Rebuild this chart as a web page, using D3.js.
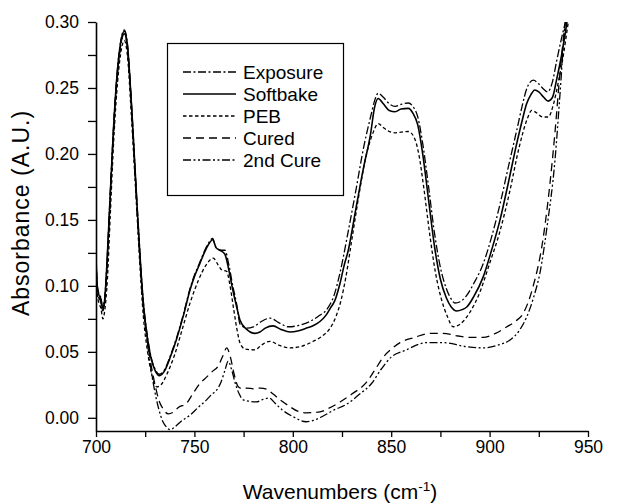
<!DOCTYPE html>
<html>
<head>
<meta charset="utf-8">
<script src="https://cdn.jsdelivr.net/npm/d3@7"></script>
<style>
  html, body { margin: 0; padding: 0; background: #fff; }
  svg { display: block; }
  text { font-family: "Liberation Sans", Arial, Helvetica, sans-serif; fill: #000; }
</style>
</head>
<body>
<svg id="chart" width="627" height="504"></svg>
<script>
// FTIR absorbance spectra of the film after each processing step

const seriesNames = ["Exposure", "Softbake", "PEB", "Cured", "2nd Cure"];

const exposureWn = [700, 700.6, 701.5, 702.5, 703.3, 704.3, 705.5, 707.1, 709, 711, 713, 714.4, 716, 718, 720.7, 722.4, 724, 726, 728, 730, 732.2, 735, 738, 741, 744.5, 747.8, 750, 752.8, 755, 757, 759.3, 761, 763.5, 765.5, 767.5, 769.5, 771.5, 773.2, 776.6, 780, 784, 788.4, 793, 797.7, 803, 808.7, 813, 817.2, 821, 824, 828, 832, 836, 839.5, 841.5, 843.4, 846, 849, 852, 855, 858.7, 861, 863.5, 866, 869, 872, 875, 878, 880.5, 882.4, 885, 888, 892, 896.8, 901, 905.3, 909.5, 913.8, 916.5, 919, 922.2, 925, 927.5, 929.5, 932, 934, 936.6, 938.5, 940.5];
const exposureAbs = [0.123, 0.101, 0.094, 0.091, 0.084, 0.089, 0.116, 0.166, 0.223, 0.266, 0.289, 0.294, 0.283, 0.239, 0.166, 0.123, 0.089, 0.063, 0.046, 0.037, 0.033, 0.037, 0.048, 0.061, 0.079, 0.098, 0.108, 0.118, 0.126, 0.132, 0.136, 0.129, 0.127, 0.127, 0.116, 0.100, 0.086, 0.071, 0.068, 0.069, 0.073, 0.0755, 0.072, 0.069, 0.070, 0.073, 0.077, 0.082, 0.093, 0.110, 0.140, 0.172, 0.205, 0.228, 0.240, 0.246, 0.243, 0.238, 0.236, 0.2375, 0.2386, 0.236, 0.228, 0.208, 0.175, 0.140, 0.114, 0.098, 0.090, 0.087, 0.088, 0.092, 0.102, 0.117, 0.137, 0.162, 0.190, 0.218, 0.236, 0.250, 0.256, 0.253, 0.249, 0.247, 0.255, 0.270, 0.288, 0.300, 0.315];

const softbakeWn = [700, 700.6, 701.5, 702.5, 703.3, 704.3, 705.5, 707.1, 709, 711, 713, 714.4, 716, 718, 720.7, 722.4, 724, 726, 728, 730, 732.2, 735, 738, 741, 744.5, 747.8, 750, 752.8, 755, 757, 759.3, 761, 763, 765.5, 767.5, 769.5, 771.5, 773.2, 776.6, 780.8, 783.3, 786, 790, 794, 798.6, 803, 807, 810.5, 813.8, 817, 819, 821.4, 824, 826, 828.2, 832, 836, 839.5, 841.5, 843.4, 846, 849, 852, 855, 858.7, 861, 863.5, 866, 869, 872, 875, 878, 880.5, 883.3, 886, 888.4, 892, 896.8, 901, 905.3, 909.5, 913.8, 916.5, 918.8, 921, 923, 925, 927.5, 929.8, 932, 934, 936.6, 938.5, 940.5];
const softbakeAbs = [0.122, 0.100, 0.093, 0.090, 0.083, 0.088, 0.115, 0.165, 0.222, 0.265, 0.288, 0.293, 0.282, 0.238, 0.165, 0.122, 0.088, 0.062, 0.045, 0.036, 0.032, 0.036, 0.047, 0.060, 0.078, 0.097, 0.107, 0.117, 0.125, 0.131, 0.135, 0.129, 0.127, 0.124, 0.112, 0.097, 0.084, 0.074, 0.067, 0.064, 0.065, 0.068, 0.0697, 0.067, 0.065, 0.066, 0.068, 0.070, 0.073, 0.078, 0.083, 0.089, 0.102, 0.115, 0.127, 0.158, 0.190, 0.215, 0.235, 0.242, 0.238, 0.233, 0.232, 0.234, 0.2345, 0.231, 0.222, 0.200, 0.165, 0.130, 0.105, 0.091, 0.084, 0.081, 0.082, 0.084, 0.092, 0.107, 0.127, 0.150, 0.178, 0.208, 0.225, 0.238, 0.245, 0.2485, 0.247, 0.243, 0.240, 0.243, 0.256, 0.275, 0.292, 0.312];

const pebWn = [700, 700.6, 701.5, 702.5, 703.5, 704.5, 705.8, 707.3, 709, 711, 713, 714.4, 716, 718, 720.7, 722.4, 724, 726, 728, 730.9, 733, 736, 740, 744, 748, 752, 756, 759.6, 762, 764, 766.4, 768, 770, 772, 773.2, 776, 780.8, 784, 788.4, 793, 798.6, 804, 810.4, 815, 819, 822, 824.5, 827, 830, 833.5, 837, 840.5, 843.4, 846, 849, 852, 855, 858.7, 861.5, 864, 866.5, 869.5, 872.5, 875.5, 878.5, 881.5, 885, 890, 895, 900, 905, 910, 915, 919, 921.4, 924, 927, 929.8, 932.5, 935, 937.5, 939.5, 941.5];
const pebAbs = [0.117, 0.094, 0.087, 0.083, 0.075, 0.082, 0.105, 0.155, 0.210, 0.255, 0.280, 0.286, 0.274, 0.228, 0.158, 0.113, 0.078, 0.052, 0.035, 0.0235, 0.025, 0.033, 0.048, 0.068, 0.088, 0.104, 0.116, 0.121, 0.116, 0.112, 0.111, 0.101, 0.082, 0.064, 0.0566, 0.052, 0.0515, 0.055, 0.058, 0.055, 0.053, 0.054, 0.058, 0.062, 0.068, 0.077, 0.089, 0.107, 0.135, 0.168, 0.197, 0.215, 0.223, 0.220, 0.217, 0.216, 0.2165, 0.217, 0.213, 0.200, 0.175, 0.140, 0.110, 0.090, 0.077, 0.069, 0.071, 0.080, 0.095, 0.117, 0.140, 0.170, 0.205, 0.226, 0.233, 0.231, 0.228, 0.228, 0.238, 0.255, 0.275, 0.295, 0.315];

const curedWn = [700, 700.6, 701.5, 702.5, 703.3, 704.3, 705.5, 707.1, 709, 711, 713, 714.4, 716, 718, 720.7, 722.4, 724, 726, 728, 730, 732, 734, 736.8, 739, 742, 746, 749.5, 752.8, 756.3, 759, 762, 764.5, 766.4, 768.3, 770.2, 772.3, 774.5, 776.7, 780, 783.5, 786.9, 790, 793.5, 798, 802.5, 807, 813.8, 818, 824, 830, 837.5, 842, 846, 850, 854.5, 862, 869.7, 876.3, 884, 890, 896.6, 903, 908.8, 913, 917, 922, 927.1, 930.7, 933.2, 935.8, 938.3, 940.5];
const curedAbs = [0.121, 0.098, 0.091, 0.088, 0.081, 0.087, 0.113, 0.163, 0.220, 0.262, 0.286, 0.291, 0.280, 0.236, 0.163, 0.120, 0.086, 0.060, 0.040, 0.025, 0.013, 0.007, 0.003, 0.004, 0.008, 0.011, 0.019, 0.026, 0.031, 0.035, 0.039, 0.047, 0.053, 0.046, 0.033, 0.0235, 0.022, 0.0225, 0.022, 0.0225, 0.0215, 0.018, 0.0136, 0.009, 0.005, 0.0038, 0.0045, 0.007, 0.012, 0.018, 0.027, 0.037, 0.046, 0.052, 0.057, 0.061, 0.064, 0.064, 0.062, 0.061, 0.061, 0.064, 0.069, 0.073, 0.079, 0.099, 0.135, 0.178, 0.216, 0.262, 0.298, 0.320];

const cure2Wn = [700, 700.6, 701.5, 702.5, 703.3, 704.3, 705.5, 707.1, 709, 711, 713, 714.4, 716, 718, 720.7, 722.4, 724, 726, 728, 730, 732, 734, 735.8, 737.6, 740, 743, 747.8, 752, 756.2, 759, 761.3, 763.5, 765.5, 767.2, 769, 771, 772.8, 774.8, 778, 781.5, 785, 788, 791, 794.6, 800, 806.7, 810.5, 815, 821, 827, 834, 840, 845, 850, 857, 868, 876.3, 888, 896.6, 904, 910.4, 915, 919, 922.5, 925.6, 929.2, 933.2, 935.8, 938.3, 940.5];
const cure2Abs = [0.121, 0.098, 0.091, 0.088, 0.081, 0.087, 0.113, 0.163, 0.220, 0.262, 0.286, 0.291, 0.280, 0.236, 0.163, 0.120, 0.085, 0.058, 0.036, 0.019, 0.006, -0.003, -0.007, -0.009, -0.007, -0.003, 0.002, 0.008, 0.0136, 0.018, 0.021, 0.027, 0.036, 0.043, 0.036, 0.025, 0.018, 0.0136, 0.0125, 0.012, 0.014, 0.015, 0.011, 0.006, 0.001, -0.003, -0.002, 0.001, 0.006, 0.010, 0.018, 0.026, 0.037, 0.046, 0.051, 0.057, 0.057, 0.054, 0.053, 0.055, 0.059, 0.066, 0.077, 0.092, 0.110, 0.145, 0.195, 0.246, 0.298, 0.320];

const xTicks = [700, 725, 750, 775, 800, 825, 850, 875, 900, 925, 950];
const xTickLabels = ["700", "", "750", "", "800", "", "850", "", "900", "", "950"];
const yTicks = [0.00, 0.025, 0.05, 0.075, 0.10, 0.125, 0.15, 0.175, 0.20, 0.225, 0.25, 0.275, 0.30];
const yTickLabels = ["0.00", "", "0.05", "", "0.10", "", "0.15", "", "0.20", "", "0.25", "", "0.30"];

const seriesWn = [exposureWn, softbakeWn, pebWn, curedWn, cure2Wn];
const seriesAbs = [exposureAbs, softbakeAbs, pebAbs, curedAbs, cure2Abs];

// line styles per processing step
const dashes = ["8,2.5,2,2.5", null, "3.5,2.5", "8,5", "8,2.5,2,2.5,2,2.5"];
const widths = [1.3, 1.6, 1.3, 1.3, 1.3];

const svg = d3.select("#chart");
const plotLeft = 96, plotRight = 588, plotTop = 22, plotBottom = 431;

const x = d3.scaleLinear().domain([700, 950]).range([plotLeft, plotRight]);
const y = d3.scaleLinear().domain([-0.01, 0.30]).range([plotBottom, plotTop]);

svg.append("defs").append("clipPath").attr("id", "plotClip")
  .append("rect").attr("x", plotLeft).attr("y", plotTop)
  .attr("width", plotRight - plotLeft).attr("height", plotBottom - plotTop);

// spectra
const line = d3.line().x(d => x(d[0])).y(d => y(d[1])).curve(d3.curveMonotoneX);
const plot = svg.append("g").attr("clip-path", "url(#plotClip)");
seriesNames.forEach((name, i) => {
  const pts = seriesWn[i].map((w, k) => [w, seriesAbs[i][k]]);
  plot.append("path")
    .datum(pts)
    .attr("d", line)
    .attr("fill", "none")
    .attr("stroke", "#000")
    .attr("stroke-width", widths[i])
    .attr("stroke-dasharray", dashes[i]);
});

// axes
const xAxis = d3.axisBottom(x).tickValues(xTicks).tickSize(6).tickSizeOuter(0)
  .tickFormat((d, i) => xTickLabels[i]);
const gx = svg.append("g").attr("transform", `translate(0,${plotBottom})`).call(xAxis);
gx.select(".domain").attr("stroke-width", 1.6);
gx.selectAll(".tick line").attr("stroke-width", 1.3);
gx.selectAll(".tick text").attr("font-size", 17.5).attr("y", 10).attr("font-family", "Liberation Sans, Arial, sans-serif");

const yAxis = d3.axisLeft(y).tickValues(yTicks).tickSize(8).tickSizeOuter(0)
  .tickFormat((d, i) => yTickLabels[i]);
const gy = svg.append("g").attr("transform", `translate(${plotLeft},0)`).call(yAxis);
gy.select(".domain").attr("stroke-width", 1.6);
gy.selectAll(".tick line").attr("stroke-width", 1.3);
gy.selectAll(".tick text").attr("font-size", 17.5).attr("x", -17).attr("font-family", "Liberation Sans, Arial, sans-serif");

// axis titles
const xt = svg.append("text").attr("x", 340).attr("y", 499).attr("text-anchor", "middle").attr("font-size", 21);
xt.append("tspan").text("Wavenumbers (cm");
xt.append("tspan").attr("font-size", 13.5).attr("dy", -8).text("-1");
xt.append("tspan").attr("dy", 8).text(")");

svg.append("text")
  .attr("transform", "translate(29,213) rotate(-90)")
  .attr("text-anchor", "middle")
  .attr("font-size", 23)
  .attr("letter-spacing", 1)
  .text("Absorbance (A.U.)");

// legend
const legend = svg.append("g");
legend.append("rect").attr("x", 167.5).attr("y", 43.5).attr("width", 176).attr("height", 152)
  .attr("fill", "#fff").attr("stroke", "#000").attr("stroke-width", 1.2);
seriesNames.forEach((name, i) => {
  const ly = 72 + i * 22;
  legend.append("line").attr("x1", 183).attr("x2", 236).attr("y1", ly).attr("y2", ly)
    .attr("stroke", "#000").attr("stroke-width", widths[i]).attr("stroke-dasharray", dashes[i]);
  legend.append("text").attr("x", 243).attr("y", ly + 6.5).attr("font-size", 19).text(name);
});
</script>
</body>
</html>
